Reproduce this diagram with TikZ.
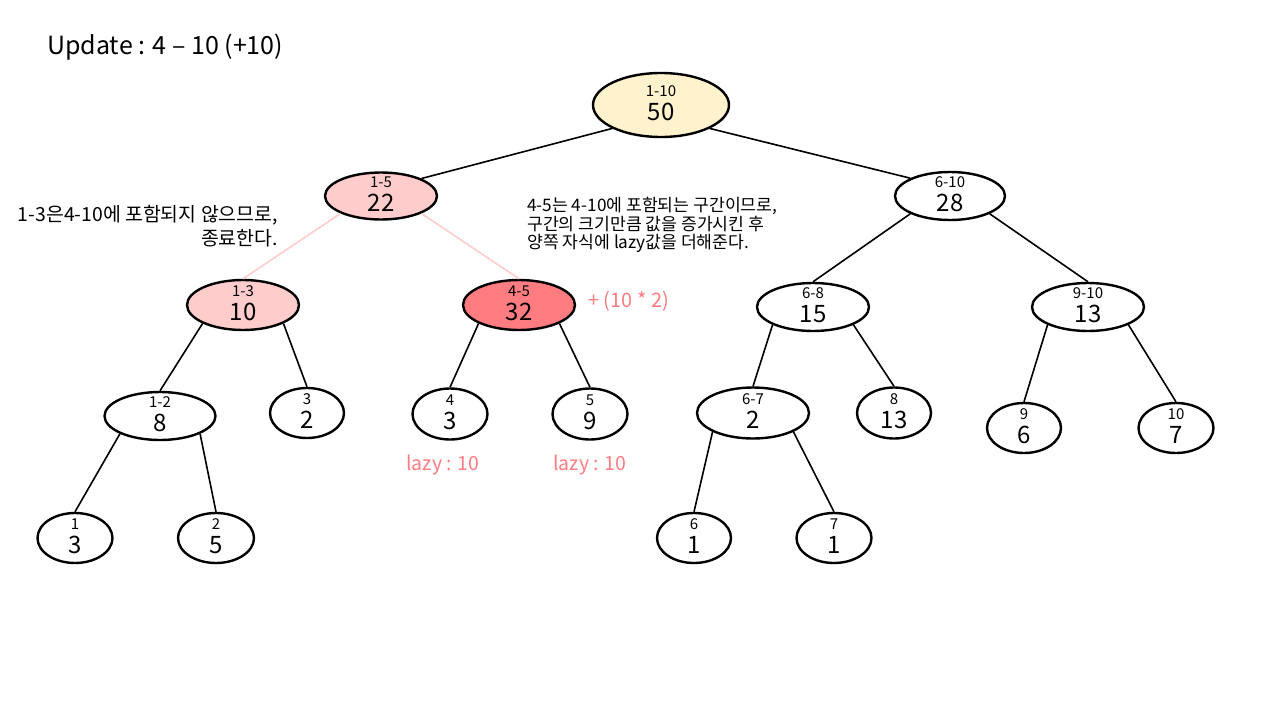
\documentclass[tikz,border=0pt]{standalone}
\usepackage{fontspec}
\setmainfont{Noto Sans CJK KR}
\usetikzlibrary{shapes.geometric}

\definecolor{rootfill}{HTML}{FFF2CC}
\definecolor{skipfill}{HTML}{FFCCCC}
\definecolor{hitfill}{HTML}{FF7C80}
\definecolor{lazytext}{HTML}{FF7C80}

% one segment tree node: name, position, width, height, range, value, fill
\newcommand{\segnode}[7]{%
  \node[seg, minimum width=#3, minimum height=#4, #7] (#1) at (#2) {};
  \node[rangetext] (#1-r) at ([yshift=14pt]#1.center) {#5};
  \node[valtext] (#1-v) at ([yshift=-7pt]#1.center) {#6};
}

\begin{document}
\begin{tikzpicture}[x=1pt, y=-1pt,
  seg/.style={ellipse, draw=black, line width=2.4pt, fill=white, inner sep=0pt},
  rangetext/.style={inner sep=0pt, font=\fontsize{15}{18}\selectfont},
  valtext/.style={inner sep=0pt, font=\fontsize{24}{28}\selectfont},
  edge/.style={line width=1.6pt, black},
  skipedge/.style={line width=1.6pt, skipfill},
  note/.style={inner sep=0pt, font=\fontsize{20}{24}\selectfont, text=lazytext}]

\useasboundingbox (0,0) rectangle (1280,720);

\node[inner sep=0pt, anchor=west, font=\fontsize{25}{30}\selectfont] (title) at (47,47) {Update : 4 – 10 (+10)};

\segnode{n1to10}{661,105}{136pt}{64pt}{1-10}{50}{fill=rootfill}
\segnode{n1to5}{381,196}{112pt}{47pt}{1-5}{22}{fill=skipfill}
\segnode{n6to10}{950,196}{110pt}{48pt}{6-10}{28}{}
\segnode{n1to3}{243,305}{112pt}{50pt}{1-3}{10}{fill=skipfill}
\segnode{n4to5}{519,305}{112pt}{50pt}{4-5}{32}{fill=hitfill}
\segnode{n6to8}{813,307}{112pt}{48pt}{6-8}{15}{}
\segnode{n9to10}{1088,307}{112pt}{48pt}{9-10}{13}{}
\segnode{n1to2}{160,416}{111pt}{48pt}{1-2}{8}{}
\segnode{n3}{307,413}{74pt}{50pt}{3}{2}{}
\segnode{n4}{450,414}{75pt}{51pt}{4}{3}{}
\segnode{n5}{590,414}{75pt}{51pt}{5}{9}{}
\segnode{n6to7}{753,413}{112pt}{51pt}{6-7}{2}{}
\segnode{n8}{894,413}{74pt}{51pt}{8}{13}{}
\segnode{n9}{1024,428}{74pt}{50pt}{9}{6}{}
\segnode{n10}{1176,428}{75pt}{50pt}{10}{7}{}
\segnode{n1}{75,538}{75pt}{50pt}{1}{3}{}
\segnode{n2}{216,538}{76pt}{50pt}{2}{5}{}
\segnode{n6}{694,538}{74pt}{50pt}{6}{1}{}
\segnode{n7}{834,538}{75pt}{50pt}{7}{1}{}

% connectors
\draw[edge] (n1to10.south west) -- (n1to5.north east);
\draw[edge] (n1to10.south east) -- (n6to10.north west);
\draw[skipedge] (n1to5.south west) -- (n1to3.north);
\draw[skipedge] (n1to5.south east) -- (n4to5.north);
\draw[edge] (n6to10.south west) -- (n6to8.north);
\draw[edge] (n6to10.south east) -- (n9to10.north);
\draw[edge] (n1to3.south west) -- (n1to2.north);
\draw[edge] (n1to3.south east) -- (n3.north);
\draw[edge] (n4to5.south west) -- (n4.north);
\draw[edge] (n4to5.south east) -- (n5.north);
\draw[edge] (n6to8.south west) -- (n6to7.north);
\draw[edge] (n6to8.south east) -- (n8.north);
\draw[edge] (n9to10.south west) -- (n9.north);
\draw[edge] (n9to10.south east) -- (n10.north);
\draw[edge] (n1to2.south west) -- (n1.north);
\draw[edge] (n1to2.south east) -- (n2.north);
\draw[edge] (n6to7.south west) -- (n6.north);
\draw[edge] (n6to7.south east) -- (n7.north);

% notes
\node[inner sep=0pt, anchor=east, align=right, font=\fontsize{19.4}{24}\selectfont] (skipnote) at (278,226) {1-3은4-10에 포함되지 않으므로,\\종료한다.};
\node[inner sep=0pt, anchor=west, align=left, font=\fontsize{17.2}{18.5}\selectfont] (hitnote) at (527,225) {4-5는 4-10에 포함되는 구간이므로,\\구간의 크기만큼 값을 증가시킨 후\\양쪽 자식에 lazy값을 더해준다.};
\node[note, anchor=west] (addnote) at (588,301) {+ (10 * 2)};
\node[note, font=\fontsize{19.5}{23}\selectfont] (lazy4) at (443,465) {lazy : 10};
\node[note, font=\fontsize{19.5}{23}\selectfont] (lazy5) at (590,465) {lazy : 10};

\end{tikzpicture}
\end{document}
